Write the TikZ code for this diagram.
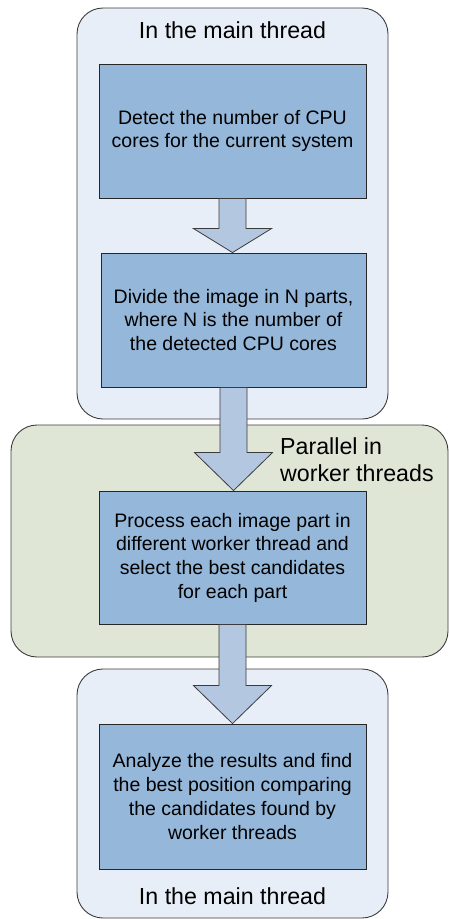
\documentclass[tikz,border=0pt]{standalone}
\usepackage{fontspec}
\setmainfont{Liberation Sans}
\usetikzlibrary{calc}
\definecolor{contblue}{RGB}{232,238,247}
\definecolor{contgreen}{RGB}{223,230,214}
\definecolor{boxblue}{RGB}{149,183,217}
\definecolor{arrblue}{RGB}{180,199,225}
\definecolor{edgegray}{RGB}{60,60,60}
\tikzset{
  container/.style={draw=edgegray, line width=0.9pt, rounded corners=26pt, inner sep=0pt},
  stepbox/.style={draw=black!85, line width=0.9pt, fill=boxblue, inner sep=0pt, align=center,
    font=\fontsize{19.5}{23.7}\selectfont},
  titletext/.style={font=\fontsize{23.2}{26.5}\selectfont, inner sep=0pt},
  blockarrow/.style={draw=edgegray, line width=0.8pt, fill=arrblue, line join=miter}
}
\begin{document}
\begin{tikzpicture}[x=1pt,y=-1pt]
\useasboundingbox (0,0) rectangle (449,919);
% containers
\node[container, fill=contblue, minimum width=311pt, minimum height=411pt] (topc) at (232.5,213.5) {};
\node[container, fill=contgreen, minimum width=437pt, minimum height=232pt] (midc) at (229.5,541) {};
\node[container, fill=contblue, minimum width=311pt, minimum height=249pt] (botc) at (232.5,793.5) {};
% titles
\node[titletext, anchor=base] (t1) at (232.5,38) {In the main thread};
\node[titletext, anchor=base west, align=left] (t2) at (280,481) {Parallel in\\worker threads};
\node[titletext, anchor=base] (t3) at (232.5,904) {In the main thread};
% steps
\node[stepbox, minimum width=267pt, minimum height=134pt] (b1) at (232.5,131)
  {Detect the number of CPU\\cores for the current system};
\node[stepbox, minimum width=265pt, minimum height=134pt] (b2) at (233.5,320)
  {Divide the image in N parts,\\where N is the number of\\the detected CPU cores};
\node[stepbox, minimum width=267pt, minimum height=133pt] (b3) at (232.5,557.5)
  {Process each image part in\\different worker thread and\\select the best candidates\\for each part};
\node[stepbox, minimum width=267pt, minimum height=145pt] (b4) at (232.5,796.5)
  {Analyze the results and find\\the best position comparing\\the candidates found by\\worker threads};
% block arrows
\newcommand{\blockarr}[3]{%
  \coordinate (S) at (#1.south);
  \coordinate (T) at (#1.south |- #2.north);
  \draw[blockarrow] ($(S)+(-13.5,0)$) -- ($(S)+(13.5,0)$) -- ($(T)+(13.5,-#3)$)
    -- ($(T)+(39,-#3)$) -- (T) -- ($(T)+(-39,-#3)$) -- ($(T)+(-13.5,-#3)$) -- cycle;
}
\blockarr{b1}{b2}{24}
\blockarr{b2}{b3}{38}
\blockarr{b3}{b4}{38}
\end{tikzpicture}
\end{document}
